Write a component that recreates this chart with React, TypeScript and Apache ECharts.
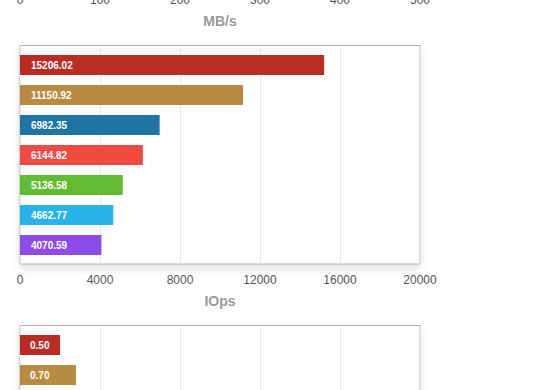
import React, { useEffect, useRef } from 'react';
import * as echarts from 'echarts';

// Data
const devices = ['Drive 1', 'Drive 2', 'Drive 3', 'Drive 4', 'Drive 5', 'Drive 6', 'Drive 7'];
const iopsValues = [15206.02, 11150.92, 6982.35, 6144.82, 5136.58, 4662.77, 4070.59];
const latencyValues = [0.5, 0.7];
const barColors = ['#b92c24', '#b98a41', '#1e74a3', '#f04a41', '#63ba33', '#29b1ea', '#8c4cea'];
const mbsAxis = { min: 0, max: 500, interval: 100, name: 'MB/s' };
const iopsAxis = { min: 0, max: 20000, interval: 4000, name: 'IOps' };
const latencyAxis = { min: 0, max: 5, interval: 1 };

const FONT = '"Liberation Sans", Arial, Helvetica, sans-serif';

export default function App() {
  const ref = useRef<HTMLDivElement>(null);
  useEffect(() => {
    if (!ref.current) return;
    const chart = echarts.init(ref.current, undefined, { renderer: 'svg' });
    const boxLeft = 20;
    const boxWidth = 400;
    const boxHeight = 218.5;
    const boxTops = [-234.5, 45.5, 325.5];
    const boxGrid = (top: number) => ({
      left: boxLeft,
      width: boxWidth,
      top,
      height: boxHeight,
      show: true,
      backgroundColor: '#ffffff',
      borderColor: '#b0b0b0',
      borderWidth: 1,
      shadowColor: 'rgba(0,0,0,0.12)',
      shadowBlur: 8,
      shadowOffsetY: 4,
      containLabel: false,
      outerBoundsMode: 'none',
    });
    const barGrid = (top: number) => ({
      left: boxLeft,
      width: boxWidth,
      top: top + 4.5,
      height: 210,
      show: false,
      containLabel: false,
      outerBoundsMode: 'none',
    });
    const boxXAxis = (gridIndex: number, ax: any, showLabels: boolean) => ({
      type: 'value',
      gridIndex,
      min: ax.min,
      max: ax.max,
      interval: ax.interval,
      name: ax.name,
      nameLocation: 'middle',
      nameGap: 30,
      nameTextStyle: { color: '#9a9a9a', fontSize: 14, fontWeight: 'bold', fontFamily: FONT },
      axisLine: { show: false },
      axisTick: { show: false },
      axisLabel: {
        show: showLabels,
        color: '#545454',
        fontSize: 12,
        fontFamily: FONT,
        margin: 10,
        formatter: (v: number) => String(v),
      },
      splitLine: { show: true, lineStyle: { color: '#e8e8e8', width: 1 } },
    });
    const hiddenY = (gridIndex: number) => ({
      type: 'value', gridIndex, min: 0, max: 1, show: false, splitLine: { show: false },
    });
    const labelStyle = {
      show: true,
      position: 'insideLeft',
      distance: 11,
      color: '#ffffff',
      fontSize: 10,
      fontWeight: 'bold',
      fontFamily: FONT,
    };
    const option: any = {
      animation: false,
      backgroundColor: '#ffffff',
      grid: [
        boxGrid(boxTops[0]),
        boxGrid(boxTops[1]),
        boxGrid(boxTops[2]),
        barGrid(boxTops[1]),
        barGrid(boxTops[2]),
      ],
      xAxis: [
        boxXAxis(0, mbsAxis, true),
        boxXAxis(1, iopsAxis, true),
        boxXAxis(2, latencyAxis, false),
        { type: 'value', gridIndex: 3, min: iopsAxis.min, max: iopsAxis.max, show: false, splitLine: { show: false } },
        { type: 'value', gridIndex: 4, min: latencyAxis.min, max: latencyAxis.max, show: false, splitLine: { show: false } },
      ],
      yAxis: [
        hiddenY(0),
        hiddenY(1),
        hiddenY(2),
        { type: 'category', gridIndex: 3, data: devices, inverse: true, show: false },
        { type: 'category', gridIndex: 4, data: devices, inverse: true, show: false },
      ],
      series: [
        {
          type: 'bar',
          name: 'IOps',
          xAxisIndex: 3,
          yAxisIndex: 3,
          barWidth: 20,
          data: iopsValues.map((v, i) => ({ value: v, itemStyle: { color: barColors[i] } })),
          label: { ...labelStyle, formatter: (p: any) => Number(p.value).toFixed(2) },
        },
        {
          type: 'bar',
          name: 'Latency',
          xAxisIndex: 4,
          yAxisIndex: 4,
          barWidth: 20,
          data: latencyValues.map((v, i) => ({ value: v, itemStyle: { color: barColors[i] } })),
          label: { ...labelStyle, distance: 10, formatter: (p: any) => Number(p.value).toFixed(2) },
        },
      ],
    };
    chart.setOption(option);
    return () => chart.dispose();
  }, []);
  return (
    <div
      ref={ref}
      style={{ position: 'absolute', left: 0, top: 0, width: 560, height: 390 }}
    />
  );
}
